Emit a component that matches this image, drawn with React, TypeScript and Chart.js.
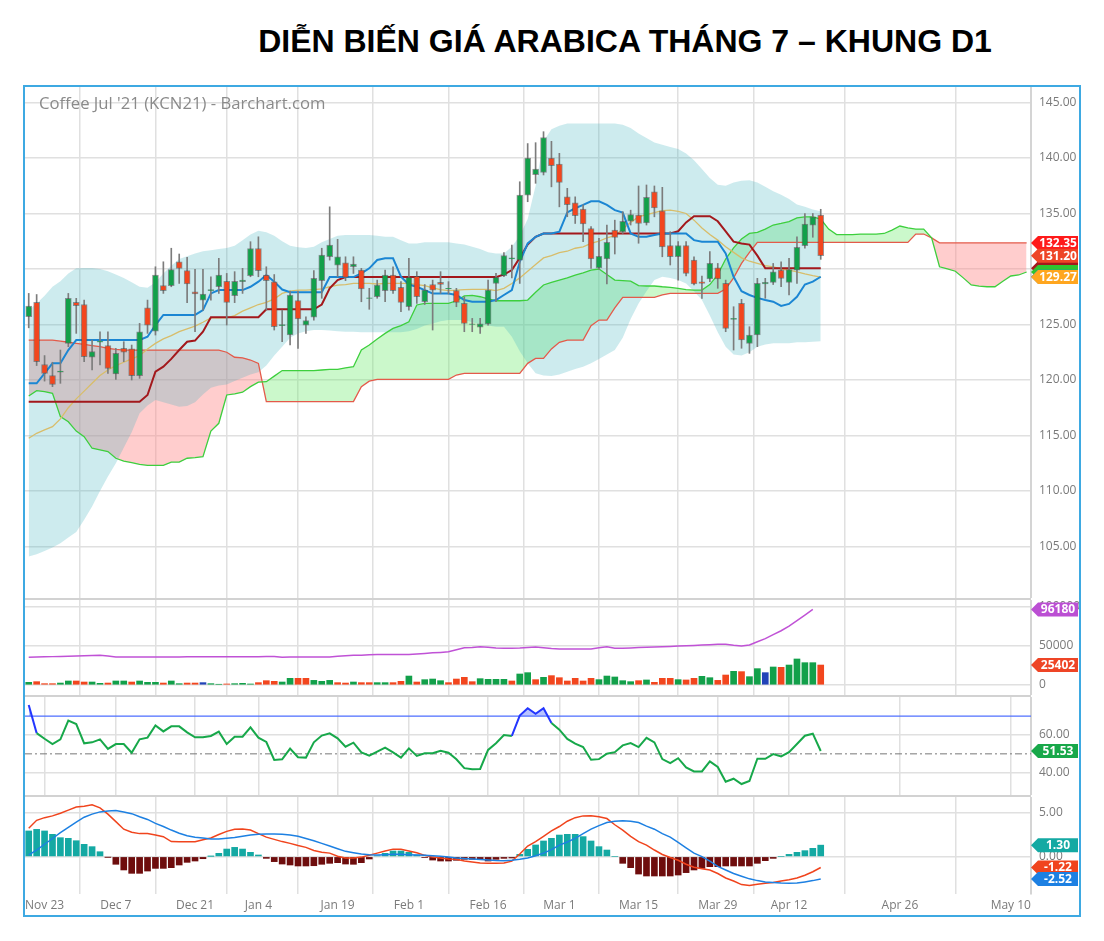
import React, { useEffect, useRef } from 'react';
import { Chart, registerables } from 'chart.js';

Chart.register(...registerables);

// ---------------- data ----------------
const TITLE = 'DIỄN BIẾN GIÁ ARABICA THÁNG 7 – KHUNG D1';
const WATERMARK = "Coffee Jul '21 (KCN21) - Barchart.com";

const TICK_POS = [2, 11, 21, 29, 39, 48, 58, 67, 77, 87, 96, 110, 124];
const TICK_LABELS = ['Nov 23', 'Dec 7', 'Dec 21', 'Jan 4', 'Jan 19', 'Feb 1', 'Feb 16', 'Mar 1', 'Mar 15', 'Mar 29', 'Apr 12', 'Apr 26', 'May 10'];

const OPEN = [
  125.7, 127.0, 121.4, 120.4, 120.7, 123.3, 127.0, 126.8, 122.05, 123.4,
  123.1, 120.55, 122.85, 122.8, 120.4, 126.5, 124.4, 128.5, 128.5, 130.65,
  129.85, 127.95, 127.2, 128.05, 128.4, 128.9, 127.6, 128.85, 129.4, 131.85,
  129.45, 128.85, 124.9, 124.05, 127.15, 124.95, 125.65, 128.95, 131.1, 130.35,
  130.55, 130.2, 129.9, 127.35, 127.5, 128.05, 129.45, 128.35, 126.6, 129.35,
  127.05, 128.6, 128.8, 128.2, 128.05, 126.9, 125.0, 124.75, 125.05, 128.7,
  129.4, 130.9, 130.8, 136.65, 138.5, 138.7, 140.0, 139.45, 136.5, 135.95,
  135.4, 133.65, 130.1, 130.9, 133.5, 133.35, 134.3, 134.85, 134.15, 136.95,
  135.25, 132.1, 131.1, 132.1, 130.8, 128.85, 129.1, 130.1, 128.7, 125.45,
  126.9, 123.3, 124.05, 128.65, 128.8, 129.9, 128.8, 129.9, 132.1, 133.95, 134.85,
];
const HIGH = [
  127.8, 127.7, 122.2, 121.6, 122.7, 127.8, 127.36, 127.2, 123.6, 124.35,
  124.35, 122.85, 123.45, 123.15, 125.1, 127.2, 130.2, 130.65, 131.87, 131.35,
  131.05, 129.97, 129.97, 129.3, 130.96, 129.6, 129.76, 130.06, 132.46, 132.9,
  130.2, 129.5, 126.3, 128.0, 128.0, 125.7, 129.85, 131.87, 135.6, 132.67,
  131.1, 131.1, 130.06, 128.26, 129.0, 129.9, 130.2, 128.86, 130.96, 129.76,
  128.6, 129.0, 129.76, 128.86, 128.26, 127.5, 125.55, 125.55, 129.0, 129.6,
  131.47, 132.16, 137.86, 141.3, 141.38, 142.37, 141.5, 140.42, 137.27, 136.5,
  135.77, 133.81, 132.77, 133.96, 134.4, 135.16, 135.3, 137.48, 137.57, 137.48,
  137.36, 133.36, 132.46, 132.46, 131.1, 129.37, 131.56, 130.5, 129.0, 126.6,
  127.27, 124.8, 129.16, 129.16, 130.5, 130.65, 130.96, 132.9, 135.0, 135.0, 135.38,
];
const LOW = [
  124.7, 121.3, 119.9, 119.4, 119.7, 123.0, 124.2, 121.65, 120.9, 121.35,
  120.6, 120.05, 121.65, 120.0, 120.15, 124.2, 124.05, 127.8, 128.4, 128.7,
  126.97, 124.35, 126.3, 127.2, 127.8, 124.95, 126.97, 127.8, 129.3, 129.3,
  126.3, 124.5, 123.45, 123.15, 122.85, 124.2, 125.4, 127.36, 130.8, 129.3,
  128.95, 129.6, 127.05, 126.37, 127.36, 127.05, 127.8, 126.15, 126.3, 126.9,
  126.8, 124.5, 127.8, 127.75, 126.6, 124.35, 124.35, 124.2, 124.95, 127.05,
  129.3, 129.2, 128.7, 136.06, 137.72, 138.47, 137.4, 135.6, 134.71, 134.1,
  132.46, 130.06, 129.97, 128.65, 131.35, 133.2, 133.96, 132.32, 133.96, 134.7,
  131.1, 130.36, 129.0, 129.37, 128.56, 127.36, 128.86, 128.26, 124.35, 122.7,
  122.86, 122.4, 123.0, 127.36, 128.6, 128.4, 127.66, 128.7, 131.87, 132.86, 130.87,
];
const CLOSE = [
  126.67, 121.65, 120.6, 119.6, 120.8, 127.36, 126.7, 122.1, 122.55, 123.5,
  121.05, 122.4, 122.5, 120.4, 124.35, 124.95, 129.45, 128.05, 129.95, 130.05,
  128.65, 127.75, 127.75, 128.15, 129.45, 127.0, 128.9, 129.0, 131.85, 129.85,
  128.95, 124.8, 125.0, 127.65, 125.5, 125.35, 129.15, 131.25, 132.15, 131.1,
  129.25, 130.45, 128.2, 127.4, 128.56, 129.45, 128.05, 127.0, 129.25, 127.5,
  128.1, 128.1, 128.6, 128.26, 127.0, 125.1, 125.05, 125.05, 128.1, 129.25,
  131.2, 131.0, 136.65, 140.0, 139.0, 141.85, 139.3, 137.8, 135.8, 134.8,
  134.05, 130.9, 131.15, 132.4, 132.85, 134.3, 134.9, 134.1, 136.45, 135.5,
  132.0, 131.1, 132.1, 129.6, 128.65, 128.7, 130.5, 129.1, 124.65, 125.55,
  123.6, 124.05, 128.7, 128.8, 129.75, 129.15, 129.95, 131.95, 134.05, 134.7, 131.2,
];

const TENKAN = [
  119.7, 119.7, 120.6, 121.5, 121.5, 122.7, 123.6, 123.6, 123.6, 123.6,
  123.6, 123.6, 123.6, 123.6, 123.6, 123.9, 124.95, 125.86, 125.86, 125.86,
  125.86, 125.86, 126.3, 127.8, 128.1, 128.1, 128.1, 128.1, 128.4, 128.86,
  129.45, 128.86, 128.15, 127.9, 127.9, 127.9, 127.9, 127.9, 129.27, 129.27,
  129.27, 129.27, 129.6, 130.06, 130.81, 130.96, 130.96, 129.3, 128.6, 128.4,
  128.1, 127.8, 127.8, 127.8, 127.66, 127.2, 127.05, 127.05, 127.05, 127.2,
  127.66, 128.1, 130.65, 132.3, 132.9, 133.2, 133.2, 133.36, 135.1, 135.47,
  135.77, 136.1, 136.1, 135.77, 135.3, 135.08, 133.2, 132.9, 132.9, 133.06,
  133.2, 133.2, 133.2, 133.2, 132.6, 132.46, 132.46, 132.46, 131.4, 129.3,
  128.0, 127.66, 127.4, 127.2, 127.05, 126.67, 126.85, 127.5, 128.6, 128.86, 129.3,
];
const KIJUN = [
  118.05, 118.05, 118.05, 118.05, 118.05, 118.05, 118.05, 118.05, 118.05, 118.05,
  118.05, 118.05, 118.05, 118.05, 118.05, 118.65, 120.75, 121.2, 121.9, 122.7,
  123.45, 123.55, 124.35, 125.65, 125.65, 125.65, 125.65, 125.65, 125.65, 125.65,
  126.37, 126.37, 126.37, 126.37, 126.37, 126.37, 126.37, 126.8, 128.26, 129.0,
  129.27, 129.27, 129.27, 129.27, 129.27, 129.27, 129.27, 129.27, 129.27, 129.27,
  129.27, 129.27, 129.27, 129.27, 129.27, 129.27, 129.27, 129.27, 129.27, 129.27,
  129.5, 129.9, 131.0, 132.2, 132.9, 133.2, 133.2, 133.2, 133.2, 133.2,
  133.2, 133.2, 133.2, 133.2, 133.2, 133.2, 133.2, 133.2, 133.2, 133.2,
  133.2, 133.2, 133.4, 134.2, 134.75, 134.75, 134.75, 134.3, 133.4, 132.46,
  132.3, 132.2, 131.2, 130.06, 130.06, 130.06, 130.06, 130.06, 130.06, 130.06, 130.06,
];
const SMA = [
  114.75, 115.2, 115.5, 115.8, 116.5, 117.5, 118.3, 119.0, 119.7, 120.4,
  120.9, 121.3, 121.6, 121.9, 122.2, 122.8, 123.3, 123.7, 124.0, 124.35,
  124.6, 124.85, 125.2, 125.6, 125.6, 125.6, 125.8, 126.2, 126.5, 126.8,
  127.0, 127.3, 127.8, 128.0, 128.1, 128.1, 128.15, 128.2, 128.4, 128.55,
  128.6, 128.7, 128.7, 128.7, 128.65, 128.7, 128.7, 128.7, 128.7, 128.6,
  128.5, 128.3, 128.15, 128.05, 128.1, 128.15, 128.17, 128.17, 128.17, 128.05,
  128.25, 128.7, 129.2, 129.8, 130.4, 131.0, 131.2, 131.47, 131.6, 131.87,
  132.0, 132.3, 132.5, 132.8, 133.0, 133.6, 134.2, 134.7, 134.9, 135.07,
  135.25, 135.3, 135.2, 135.0, 134.4, 133.7, 133.1, 132.6, 132.0, 131.5,
  131.0, 130.7, 130.5, 130.3, 130.2, 130.0, 129.9, 129.75, 129.55, 129.4, 129.27,
];
const BB_UPPER = [
  126.3, 126.9, 127.6, 128.4, 128.9, 129.6, 130.06, 130.1, 130.1, 130.0,
  129.8, 129.5, 129.2, 128.8, 128.4, 128.3, 128.8, 129.6, 130.3, 130.9,
  131.15, 131.4, 131.6, 131.7, 131.8, 131.9, 132.1, 132.6, 133.1, 133.45,
  133.3, 133.0, 132.5, 132.1, 131.95, 131.9, 132.0, 132.4, 132.7, 133.0,
  133.06, 133.06, 133.06, 133.06, 133.0, 132.9, 132.9, 132.6, 132.3, 132.3,
  132.4, 132.4, 132.4, 132.4, 132.3, 132.2, 132.0, 131.8, 131.5, 131.4,
  131.4, 132.0, 133.0, 134.5, 137.5, 141.5, 142.6, 142.9, 143.1, 143.1,
  143.1, 143.1, 143.1, 143.1, 143.1, 143.0, 142.7, 142.2, 141.8, 141.4,
  141.2, 141.0, 140.8, 140.4, 139.8, 139.0, 138.2, 137.6, 137.5, 137.8,
  137.95, 138.0, 137.8, 137.4, 137.0, 136.7, 136.3, 135.8, 135.6, 135.35, 135.2,
];
const BB_LOWER = [
  104.1, 104.3, 104.6, 104.9, 105.3, 105.8, 106.3, 107.4, 108.6, 110.0,
  111.3, 112.5, 113.9, 115.3, 117.0, 117.7, 118.2, 118.0, 117.8, 117.6,
  117.65, 118.0, 118.7, 119.3, 119.5, 119.6, 119.9, 120.2, 120.5, 120.7,
  121.3, 122.2, 123.0, 123.8, 124.2, 124.4, 124.5, 124.5, 124.45, 124.4,
  124.35, 124.35, 124.3, 124.3, 124.3, 124.3, 124.3, 124.3, 124.4, 124.6,
  124.9, 125.1, 125.3, 125.4, 125.4, 125.4, 125.2, 125.0, 124.9, 124.8,
  124.8, 123.9, 122.6, 121.5, 120.6, 120.4, 120.36, 120.5, 120.75, 121.0,
  121.2, 121.5, 121.9, 122.3, 122.7, 123.8, 125.5, 126.9, 128.0, 129.0,
  129.3, 129.2, 129.0, 128.7, 128.0, 127.2, 125.8, 124.3, 123.0, 122.3,
  122.2, 122.5, 123.0, 123.2, 123.3, 123.3, 123.3, 123.4, 123.4, 123.45, 123.5,
];
const SENKOU_A = [
  118.56, 119.04, 118.95, 118.8, 116.7, 116.24, 115.4, 114.9, 113.85, 113.7,
  113.55, 112.95, 112.7, 112.55, 112.4, 112.3, 112.3, 112.3, 112.6, 112.6,
  112.95, 113.0, 113.1, 115.4, 116.1, 118.65, 118.75, 118.9, 119.4, 119.8,
  119.85, 120.35, 120.85, 120.85, 120.85, 120.85, 120.85, 120.9, 120.96, 120.96,
  121.1, 121.2, 122.7, 123.15, 123.7, 124.2, 124.65, 124.9, 125.25, 126.76,
  126.9, 126.9, 126.9, 126.9, 127.14, 127.57, 127.63, 127.5, 127.3, 127.14,
  127.14, 127.14, 127.14, 127.2, 127.9, 128.56, 128.8, 129.0, 129.2, 129.45,
  129.65, 129.9, 130.0, 129.5, 129.0, 128.95, 128.9, 128.5, 128.47, 128.47,
  128.4, 128.35, 128.26, 128.15, 128.1, 128.1, 128.6, 129.5, 130.9, 131.9,
  132.7, 133.2, 133.3, 133.6, 133.96, 134.1, 134.26, 134.6, 134.7, 134.7,
  134.5, 133.6, 133.1, 133.1, 133.1, 133.15, 133.15, 133.15, 133.2, 133.5,
  133.87, 133.7, 133.6, 133.6, 132.8, 130.2, 130.0, 129.8, 129.2, 128.56,
  128.45, 128.4, 128.4, 128.9, 129.37, 129.46, 129.73,
];
const SENKOU_B = [
  123.6, 123.6, 123.6, 123.6, 123.5, 123.4, 123.3, 123.2, 123.1, 123.0,
  122.85, 122.75, 122.7, 122.7, 122.7, 122.7, 122.7, 122.7, 122.7, 122.7,
  122.7, 122.7, 122.7, 122.7, 122.7, 122.5, 122.05, 122.0, 121.8, 121.5,
  118.05, 118.05, 118.05, 118.05, 118.05, 118.05, 118.05, 118.05, 118.05, 118.05,
  118.05, 118.05, 119.4, 119.9, 120.06, 120.06, 120.06, 120.06, 120.06, 120.06,
  120.06, 120.06, 120.06, 120.06, 120.45, 120.6, 120.6, 120.6, 120.6, 120.6,
  120.6, 120.6, 120.6, 121.5, 121.95, 121.95, 122.8, 123.4, 123.6, 123.6,
  123.6, 124.9, 125.4, 125.4, 126.5, 127.45, 127.45, 127.45, 127.45, 127.45,
  127.66, 127.8, 127.8, 127.8, 127.8, 127.8, 127.8, 127.8, 128.2, 129.2,
  130.5, 131.5, 132.4, 132.4, 132.4, 132.4, 132.4, 132.4, 132.4, 132.4,
  132.4, 132.4, 132.4, 132.4, 132.4, 132.4, 132.4, 132.4, 132.4, 132.4,
  132.4, 132.4, 133.15, 133.15, 132.8, 132.35, 132.35, 132.35, 132.35, 132.35,
  132.35, 132.35, 132.35, 132.35, 132.35, 132.35, 132.35,
];

const VOLUME = [
  3400, 4240, 1700, 1700, 2500, 5100, 5100, 3800, 3800, 2100,
  2500, 5100, 5100, 3800, 5100, 3400, 3400, 2500, 5100, 1700,
  2500, 2500, 3000, 1700, 850, 1300, 1700, 2100, 1300, 3000,
  5500, 4700, 3800, 8500, 8500, 8500, 5900, 4700, 5900, 3000,
  2500, 3800, 3000, 3000, 3000, 3000, 3000, 4700, 11400, 3800,
  6800, 7600, 5500, 3000, 7600, 9750, 4240, 8050, 7200, 7200,
  7200, 5100, 14000, 15700, 6800, 9750, 11900, 9300, 5100, 8500,
  5100, 8500, 6800, 11400, 10200, 5500, 4240, 5500, 6400, 3400,
  8500, 8500, 6800, 6400, 8500, 11000, 9300, 5900, 12700, 17400,
  17000, 10600, 20800, 15700, 22900, 22500, 25400, 33100, 28400, 28400, 25402,
];
const VOL_DIR = ('grrrggrrgg' + 'rggrgggrgg' + 'rrbggrgggr' + 'rrggrrgggr' + 'rgrrggrrgr' +
  'gggrrrrggg' + 'grggrgrrrr' + 'rrgggggrgr' + 'rrgrrggrrg' + 'rggbgrggggr').split('');
const OPEN_INT = [
  35200, 35500, 35800, 36100, 36400, 36700, 37000, 37300, 37500, 37800,
  36800, 35600, 35600, 35600, 35600, 35600, 35600, 35600, 35600, 35700,
  35800, 35900, 36000, 36000, 36000, 36000, 36000, 36000, 36000, 36100,
  36200, 36400, 35400, 35500, 35600, 35600, 35600, 35600, 35600, 36500,
  37200, 37700, 38000, 38400, 38700, 38800, 38800, 38800, 38900, 39500,
  40200, 40900, 41500, 42200, 44800, 47500, 47600, 48800, 48000, 47000,
  46800, 46700, 47000, 47800, 48500, 47500, 46500, 45800, 45800, 45800,
  45800, 45800, 47500, 48800, 46800, 46700, 47200, 47700, 48000, 48300,
  48700, 49100, 49500, 49800, 50300, 50800, 51300, 51700, 51700, 50500,
  49700, 50900, 55000, 59000, 64000, 69000, 75000, 82000, 89000, 96180,
];

const RSI = [
  75.9, 61.0, 58.0, 55.2, 57.7, 67.6, 65.8, 55.6, 56.1, 57.7,
  52.6, 55.2, 55.2, 50.6, 57.7, 58.6, 65.1, 61.9, 64.6, 64.6,
  61.4, 58.8, 58.8, 59.5, 61.8, 55.2, 59.1, 59.1, 64.1, 58.6,
  56.3, 46.8, 47.1, 52.8, 48.2, 48.0, 56.1, 59.7, 60.9, 58.2,
  53.8, 55.9, 50.8, 49.0, 51.2, 53.3, 50.8, 48.0, 52.9, 48.9,
  50.3, 50.3, 51.6, 50.6, 47.1, 42.4, 41.8, 42.0, 52.1, 55.6,
  60.0, 59.5, 70.3, 74.2, 71.2, 74.2, 66.4, 62.8, 57.9, 55.4,
  53.6, 46.9, 47.2, 50.1, 50.9, 54.5, 55.7, 53.6, 58.5, 56.1,
  47.2, 45.1, 47.7, 42.8, 40.7, 40.7, 46.0, 43.0, 35.2, 36.8,
  34.0, 35.6, 47.4, 47.4, 49.9, 48.6, 50.9, 55.2, 59.6, 60.7, 51.53,
];
const RSI_UPPER = 70;
const RSI_MID = 50;

const MACD_LINE = [
  3.2, 4.1, 4.4, 4.6, 4.9, 5.25, 5.6, 5.7, 5.85, 5.5,
  4.8, 3.95, 3.1, 2.75, 2.6, 2.6, 2.45, 2.25, 1.7, 1.69,
  1.69, 1.69, 1.9, 2.1, 2.5, 2.85, 3.1, 3.12, 3.0, 2.6,
  2.2, 1.95, 1.7, 1.5, 1.25, 1.05, 0.7, 0.5, 0.4, 0.05,
  -0.15, -0.15, -0.05, 0.15, 0.4, 0.65, 0.85, 0.83, 0.65, 0.45,
  0.15, -0.05, -0.15, -0.25, -0.3, -0.5, -0.6, -0.72, -0.75, -0.75,
  -0.72, -0.5, 0.3, 1.2, 1.7, 2.3, 2.9, 3.4, 4.0, 4.4,
  4.6, 4.62, 4.5, 4.3, 3.6, 3.0, 2.3, 1.7, 1.3, 0.75,
  0.25, -0.1, -0.4, -0.85, -1.2, -1.35, -1.5, -1.9, -2.4, -2.75,
  -3.15, -3.25, -3.12, -3.0, -2.9, -2.75, -2.6, -2.4, -2.1, -1.7, -1.22,
];
const MACD_SIGNAL = [
  0.2, 0.75, 1.4, 2.05, 2.7, 3.3, 3.9, 4.45, 4.8, 5.05,
  5.15, 5.2, 5.05, 4.85, 4.5, 4.2, 3.75, 3.4, 3.0, 2.65,
  2.35, 2.18, 2.1, 2.0, 2.0, 2.07, 2.15, 2.3, 2.45, 2.52,
  2.56, 2.55, 2.52, 2.45, 2.3, 2.05, 1.8, 1.5, 1.2, 0.9,
  0.6, 0.45, 0.3, 0.22, 0.19, 0.22, 0.26, 0.26, 0.23, 0.19,
  0.15, 0.1, 0.05, -0.05, -0.15, -0.22, -0.27, -0.33, -0.38, -0.43,
  -0.45, -0.4, -0.3, -0.15, 0.1, 0.4, 0.8, 1.3, 1.65, 2.07,
  2.6, 3.1, 3.5, 3.85, 4.0, 4.05, 4.0, 3.85, 3.45, 3.1,
  2.6, 2.2, 1.6, 1.0, 0.4, 0.0, -0.5, -1.1, -1.5, -1.9,
  -2.2, -2.5, -2.7, -2.85, -2.92, -2.98, -3.0, -2.98, -2.85, -2.7, -2.52,
];
const MACD_HIST = [
  2.9, 3.08, 2.9, 2.52, 2.14, 2.07, 1.8, 1.39, 1.13, 0.56,
  -0.05, -0.86, -1.5, -1.88, -1.88, -1.62, -1.32, -1.32, -1.24, -0.94,
  -0.64, -0.49, -0.23, 0.03, 0.38, 0.86, 1.05, 0.86, 0.49, 0.19,
  -0.19, -0.56, -0.83, -0.94, -1.05, -1.05, -1.02, -0.86, -0.75, -0.68,
  -0.83, -0.86, -0.68, -0.26, 0.11, 0.38, 0.64, 0.64, 0.49, 0.19,
  -0.1, -0.38, -0.49, -0.49, -0.41, -0.3, -0.3, -0.3, -0.49, -0.3,
  -0.19, -0.15, 0.26, 0.83, 1.32, 1.77, 2.07, 2.44, 2.52, 2.52,
  2.26, 1.77, 1.13, 0.75, 0, -0.75, -1.24, -1.96, -2.18, -2.18,
  -2.18, -2.18, -2.07, -1.8, -1.5, -1.32, -1.13, -1.13, -1.05, -1.05,
  -1.05, -1.05, -0.75, -0.45, -0.19, 0, 0.26, 0.49, 0.68, 0.94, 1.3,
];

const PRICE_TICKS = [105, 110, 115, 120, 125, 130, 135, 140, 145];
const VOL_TICKS = [0, 50000, 100000];
const RSI_TICKS = [40, 60];
const MACD_TICKS = [0, 5];

// ---------------- layout / style ----------------
const X_MIN = -0.47;
const X_MAX = 126.55;
const CANVAS_LEFT = 25;
const CANVAS_W = 1054;
const Y_AXIS_W = 48;
const X_AXIS_H = 21;

const GRID = '#e0e0e0';
const UP = '#12a04a';
const DOWN = '#f2461e';
const FONT = '"Open Sans", "DejaVu Sans", sans-serif';

const pts = (arr: number[]) => arr.map((y, x) => ({ x, y }));
const last = (arr: number[]) => arr[arr.length - 1];

const xScale = (showLabels: boolean) => ({
  type: 'linear',
  min: X_MIN,
  max: X_MAX,
  offset: false,
  afterBuildTicks: (s: any) => {
    s.ticks = TICK_POS.map((v) => ({ value: v }));
  },
  afterFit: (s: any) => {
    s.height = showLabels ? X_AXIS_H : 0;
    s.paddingLeft = 0;
    s.paddingRight = 0;
  },
  ticks: {
    display: showLabels,
    autoSkip: false,
    maxRotation: 0,
    padding: 4,
    color: '#7a7a7a',
    font: { family: FONT, size: 12 },
    callback: (v: number) => {
      const k = TICK_POS.indexOf(v);
      return k >= 0 ? TICK_LABELS[k] : '';
    },
  },
  grid: { color: GRID, lineWidth: 1.5, drawTicks: false },
  border: { display: false },
});

const yScale = (min: number, max: number, ticks: number[], fmt: (v: number) => string) => ({
  type: 'linear',
  position: 'right',
  min,
  max,
  afterBuildTicks: (s: any) => {
    s.ticks = ticks.map((v) => ({ value: v }));
  },
  afterFit: (s: any) => {
    s.width = Y_AXIS_W;
    s.paddingTop = 0;
    s.paddingBottom = 0;
  },
  ticks: { color: '#7a7a7a', font: { family: FONT, size: 12 }, padding: 8, callback: fmt },
  grid: { color: GRID, lineWidth: 1.5, drawTicks: false },
  border: { display: true, color: '#d4d4d4', width: 2 },
});

type Tag = { value: number; text: string; color: string };
const tagPlugin = (tags: Tag[]) => ({
  id: 'tags',
  afterDraw(chart: any) {
    const { ctx, chartArea, scales } = chart;
    ctx.save();
    tags.forEach((t) => {
      const py = scales.y.getPixelForValue(t.value);
      const x0 = chartArea.right;
      const h = 7;
      ctx.beginPath();
      ctx.moveTo(x0, py);
      ctx.lineTo(x0 + 7, py - h);
      ctx.lineTo(x0 + 47, py - h);
      ctx.lineTo(x0 + 47, py + h);
      ctx.lineTo(x0 + 7, py + h);
      ctx.closePath();
      ctx.fillStyle = t.color;
      ctx.fill();
      if (t.text) {
        ctx.fillStyle = '#ffffff';
        ctx.font = `bold 12px ${FONT}`;
        ctx.textAlign = 'center';
        ctx.textBaseline = 'middle';
        ctx.fillText(t.text, x0 + 27, py + 0.5);
      }
    });
    ctx.restore();
  },
});

const baseOptions = (x: any, y: any) => ({
  responsive: false,
  maintainAspectRatio: false,
  animation: false,
  events: [],
  layout: { padding: 0 },
  plugins: { legend: { display: false }, tooltip: { enabled: false }, title: { display: false } },
  scales: { x, y },
});

const line = (data: number[], color: string, width: number, order: number, extra: any = {}) => ({
  data: pts(data),
  borderColor: color,
  borderWidth: width,
  pointRadius: 0,
  fill: false,
  order,
  ...extra,
});

const priceConfig = () => ({
  type: 'line',
  data: {
    datasets: [
      line(SENKOU_A, 'rgba(0,0,0,0)', 1, 100, { fill: { target: 1, above: 'rgba(110,235,110,0.36)', below: 'rgba(255,135,135,0.42)' } }),
      line(SENKOU_B, 'rgba(0,0,0,0)', 1, 99),
      line(BB_UPPER, 'rgba(0,0,0,0)', 1, 98, { fill: { target: 3, above: 'rgba(60,178,190,0.26)', below: 'rgba(60,178,190,0.26)' } }),
      line(BB_LOWER, 'rgba(0,0,0,0)', 1, 97),
      line(SENKOU_B, '#e45a4a', 1.3, 90),
      line(SENKOU_A, '#3dcf3d', 1.3, 89),
      line(SMA, '#d8bd6a', 1.3, 80),
      line(KIJUN, '#a3181c', 2, 79),
      line(TENKAN, '#1b86d3', 2, 78),
      {
        type: 'bar',
        data: HIGH.map((h, i) => ({ x: i, y: [LOW[i], h] })),
        backgroundColor: '#7c7c7c',
        barThickness: 1,
        grouped: false,
        order: 70,
      },
      {
        type: 'bar',
        data: OPEN.map((o, i) => ({ x: i, y: [o, CLOSE[i]] })),
        backgroundColor: (c: any) => (CLOSE[c.dataIndex] >= OPEN[c.dataIndex] ? UP : DOWN),
        borderColor: 'rgba(70,70,70,0.55)',
        borderWidth: 1,
        borderSkipped: false,
        barThickness: 6,
        grouped: false,
        order: 69,
      },
    ],
  },
  options: baseOptions(xScale(false), yScale(100.36, 146.396, PRICE_TICKS, (v: number) => v.toFixed(2))),
  plugins: [
    tagPlugin([
      { value: last(KIJUN), text: '', color: '#a3181c' },
      { value: last(SENKOU_A), text: '', color: '#2fc42f' },
      { value: last(TENKAN), text: '', color: '#1b86d3' },
      { value: last(SENKOU_B), text: last(SENKOU_B).toFixed(2), color: '#ff1a1a' },
      { value: last(CLOSE), text: last(CLOSE).toFixed(2), color: '#ee4526' },
      { value: last(SMA), text: last(SMA).toFixed(2), color: '#ffa61f' },
    ]),
  ],
});

const volColor = (d: string) => (d === 'g' ? UP : d === 'r' ? DOWN : '#2143b8');

const volumeConfig = () => ({
  type: 'line',
  data: {
    datasets: [
      line(OPEN_INT, '#c052d6', 1.5, 2),
      {
        type: 'bar',
        data: VOLUME.map((v, i) => ({ x: i, y: v })),
        backgroundColor: VOL_DIR.map(volColor),
        barThickness: 6,
        grouped: false,
        order: 3,
      },
    ],
  },
  options: baseOptions(xScale(false), yScale(-12723, 108142, VOL_TICKS, (v: number) => String(v))),
  plugins: [
    tagPlugin([
      { value: last(OPEN_INT), text: String(last(OPEN_INT)), color: '#bb4fd3' },
      { value: last(VOLUME), text: String(last(VOLUME)), color: '#ee4526' },
    ]),
  ],
});

const rsiConfig = () => ({
  type: 'line',
  data: {
    datasets: [
      { data: [{ x: X_MIN, y: RSI_UPPER }, { x: X_MAX, y: RSI_UPPER }], borderColor: '#5070ff', borderWidth: 1.2, pointRadius: 0, order: 5 },
      { data: [{ x: X_MIN, y: RSI_MID }, { x: X_MAX, y: RSI_MID }], borderColor: '#777777', borderWidth: 1, borderDash: [7, 3, 2, 3], pointRadius: 0, order: 4 },
      line(RSI, '#17a84a', 2, 1, {
        fill: { value: RSI_UPPER, above: 'rgba(70,100,255,0.38)', below: 'rgba(0,0,0,0)' },
        segment: {
          borderColor: (c: any) => (c.p0.parsed.y > RSI_UPPER || c.p1.parsed.y > RSI_UPPER ? '#2336ff' : '#17a84a'),
        },
      }),
    ],
  },
  options: baseOptions(xScale(false), yScale(28.17, 80.16, RSI_TICKS, (v: number) => v.toFixed(2))),
  plugins: [tagPlugin([{ value: last(RSI), text: last(RSI).toFixed(2), color: '#18a84a' }])],
});

const macdConfig = () => ({
  type: 'line',
  data: {
    datasets: [
      line(MACD_LINE, '#f0441d', 1.5, 2),
      line(MACD_SIGNAL, '#1d80e2', 1.5, 1),
      {
        type: 'bar',
        data: MACD_HIST.map((v, i) => ({ x: i, y: v })),
        backgroundColor: MACD_HIST.map((v) => (v >= 0 ? '#14a9a3' : '#6e0d0d')),
        barThickness: 6,
        grouped: false,
        order: 3,
      },
    ],
  },
  options: baseOptions(xScale(true), yScale(-4.21, 6.73, MACD_TICKS, (v: number) => v.toFixed(2))),
  plugins: [
    tagPlugin([
      { value: last(MACD_HIST), text: last(MACD_HIST).toFixed(2), color: '#14a9a3' },
      { value: last(MACD_LINE), text: last(MACD_LINE).toFixed(2), color: '#f0441d' },
      { value: last(MACD_SIGNAL), text: last(MACD_SIGNAL).toFixed(2), color: '#1d80e2' },
    ]),
  ],
});

function Panel({ top, height, build }: { top: number; height: number; build: () => any }) {
  const ref = useRef<HTMLCanvasElement | null>(null);
  useEffect(() => {
    if (!ref.current) return;
    const chart = new Chart(ref.current, build());
    return () => chart.destroy();
  }, []);
  return (
    <canvas
      ref={ref}
      width={CANVAS_W}
      height={height}
      style={{ position: 'absolute', left: CANVAS_LEFT, top, width: CANVAS_W, height, display: 'block' }}
    />
  );
}

const Sep = ({ top }: { top: number }) => (
  <div style={{ position: 'absolute', left: 25, top, width: 1006, height: 2, background: '#d2d2d2' }} />
);

export default function App() {
  return (
    <div style={{ position: 'fixed', left: 0, top: 0, width: 1104, height: 941, background: '#ffffff', overflow: 'hidden' }}>
      <div
        style={{
          position: 'absolute',
          top: 21,
          left: 625,
          transform: 'translateX(-50%)',
          whiteSpace: 'nowrap',
          fontFamily: '"Liberation Sans", Arial, sans-serif',
          fontWeight: 'bold',
          fontSize: 32,
          lineHeight: '40px',
          color: '#000',
        }}
      >
        {TITLE}
      </div>
      <Panel top={87} height={511} build={priceConfig} />
      <Panel top={600} height={95} build={volumeConfig} />
      <Panel top={697} height={98} build={rsiConfig} />
      <Panel top={797} height={118} build={macdConfig} />
      <Sep top={598} />
      <Sep top={695} />
      <Sep top={795} />
      <div
        style={{
          position: 'absolute',
          left: 39,
          top: 93,
          fontFamily: FONT,
          fontSize: 16.7,
          lineHeight: '20px',
          color: '#8a8a8a',
          whiteSpace: 'nowrap',
        }}
      >
        {WATERMARK}
      </div>
      <div
        style={{
          position: 'absolute',
          left: 23,
          top: 85,
          width: 1058,
          height: 832,
          border: '2px solid #3ea9e2',
          boxSizing: 'border-box',
          pointerEvents: 'none',
        }}
      />
    </div>
  );
}
